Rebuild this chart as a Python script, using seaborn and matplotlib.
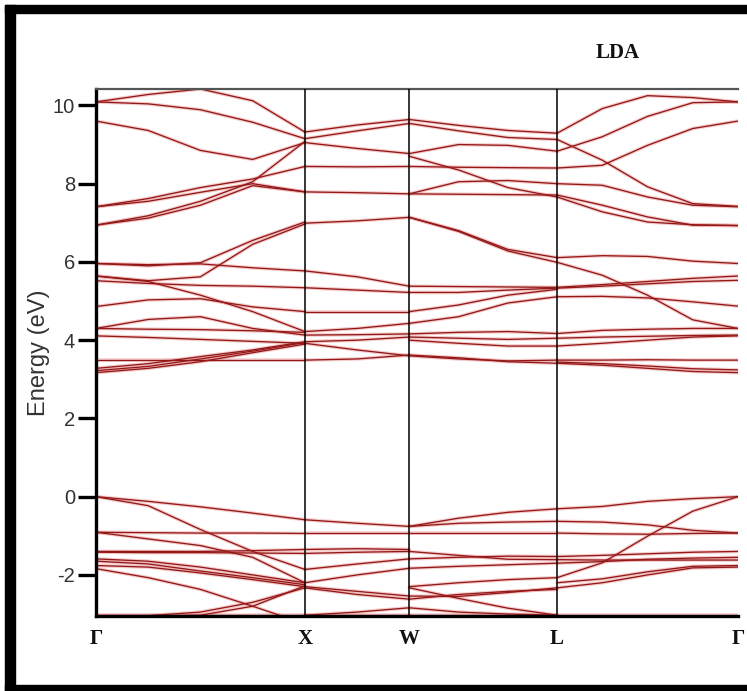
import numpy as np
import pandas as pd
import matplotlib
matplotlib.use("Agg")
import matplotlib.pyplot as plt
from matplotlib.patches import Rectangle
import seaborn as sns

# ---------------- data ----------------
kpoint_labels = ["Γ", "X", "W", "L", "Γ"]
segment_lengths = [1.0, 0.5, 0.7071, 0.8660]          # Γ-X, X-W, W-L, L-Γ (2π/a)
yticks = [-2, 0, 2, 4, 6, 8, 10]
ytick_labels = ["-2", "0", "2", "4", "6", "8", "10"]
title_text = "LDA"
ylabel_text = "Energy (eV)"

# fractional sample positions along each segment
frac_GX = [0, 0.25, 0.5, 0.75, 1.0]
frac_XW = [0, 0.5, 1.0]
frac_WL = [0, 1/3, 2/3, 1.0]
frac_LG = [0, 0.25, 0.5, 0.75, 1.0]

bands_GX = [
    [10.09, 10.28, 10.42, 10.12, 9.32],
    [10.09, 10.04, 9.89, 9.57, 9.15],
    [9.60, 9.36, 8.85, 8.62, 9.05],
    [7.41, 7.62, 7.90, 8.12, 8.44],
    [7.41, 7.55, 7.78, 8.00, 7.79],
    [6.94, 7.18, 7.55, 8.05, 9.08],
    [6.94, 7.12, 7.45, 7.95, 7.79],
    [5.96, 5.93, 5.95, 5.85, 5.77],
    [5.96, 5.90, 5.98, 6.55, 7.02],
    [5.64, 5.52, 5.62, 6.45, 6.97],
    [5.52, 5.45, 5.40, 5.38, 5.34],
    [5.64, 5.50, 5.15, 4.73, 4.22],
    [4.86, 5.03, 5.06, 4.85, 4.73],
    [4.30, 4.53, 4.60, 4.30, 4.13],
    [4.30, 4.28, 4.27, 4.24, 4.20],
    [4.11, 4.07, 4.02, 3.97, 3.92],
    [3.49, 3.49, 3.49, 3.49, 3.49],
    [3.28, 3.40, 3.58, 3.75, 3.96],
    [3.22, 3.33, 3.52, 3.72, 3.94],
    [3.17, 3.28, 3.45, 3.68, 3.90],
    [0.00, -0.12, -0.26, -0.42, -0.59],
    [0.00, -0.23, -0.84, -1.40, -1.86],
    [-0.91, -0.92, -0.93, -0.93, -0.94],
    [-0.91, -1.08, -1.25, -1.55, -2.20],
    [-1.40, -1.40, -1.40, -1.38, -1.35],
    [-1.42, -1.43, -1.43, -1.44, -1.45],
    [-1.59, -1.65, -1.80, -2.00, -2.20],
    [-1.65, -1.72, -1.90, -2.07, -2.25],
    [-1.76, -1.80, -1.95, -2.12, -2.30],
    [-1.84, -2.07, -2.37, -2.80, -3.25],
    [-3.04, -3.04, -2.95, -2.70, -2.33],
    [-3.05, -3.05, -3.03, -2.80, -2.28],
    [-3.03, -3.03, -3.03, -3.03, -3.03],
]

bands_XW = [
    [9.32, 9.50, 9.64],
    [9.15, 9.35, 9.54],
    [9.05, 8.90, 8.77],
    [8.44, 8.43, 8.44],
    [7.79, 7.77, 7.74],
    [6.99, 7.05, 7.14],
    [5.77, 5.62, 5.38],
    [5.34, 5.28, 5.22],
    [4.73, 4.73, 4.73],
    [4.22, 4.30, 4.43],
    [4.13, 4.14, 4.16],
    [3.96, 4.00, 4.08],
    [3.92, 3.75, 3.60],
    [3.49, 3.52, 3.62],
    [-0.59, -0.68, -0.76],
    [-0.93, -0.93, -0.93],
    [-1.35, -1.33, -1.35],
    [-1.45, -1.42, -1.40],
    [-1.86, -1.72, -1.59],
    [-2.20, -2.00, -1.83],
    [-2.30, -2.42, -2.54],
    [-2.33, -2.50, -2.62],
    [-3.03, -2.95, -2.84],
    [-3.03, -3.03, -3.03],
]

bands_WL = [
    [9.64, 9.49, 9.36, 9.29],
    [9.54, 9.35, 9.18, 9.13],
    [8.77, 9.00, 8.98, 8.83],
    [8.70, 8.35, 7.90, 7.66],
    [8.44, 8.42, 8.41, 8.40],
    [7.74, 8.05, 8.08, 8.00],
    [7.74, 7.73, 7.72, 7.71],
    [7.14, 6.80, 6.32, 6.11],
    [7.14, 6.78, 6.28, 5.99],
    [5.38, 5.37, 5.36, 5.35],
    [5.22, 5.22, 5.28, 5.33],
    [4.73, 4.90, 5.15, 5.30],
    [4.43, 4.60, 4.95, 5.11],
    [4.16, 4.20, 4.22, 4.17],
    [4.08, 4.05, 4.02, 4.05],
    [4.00, 3.92, 3.85, 3.85],
    [3.62, 3.55, 3.45, 3.41],
    [3.60, 3.52, 3.47, 3.49],
    [-0.76, -0.55, -0.40, -0.31],
    [-0.76, -0.68, -0.65, -0.63],
    [-0.93, -0.93, -0.93, -0.93],
    [-1.40, -1.50, -1.60, -1.61],
    [-1.59, -1.55, -1.52, -1.53],
    [-1.83, -1.78, -1.74, -1.70],
    [-2.30, -2.20, -2.12, -2.07],
    [-2.54, -2.55, -2.45, -2.33],
    [-2.62, -2.50, -2.42, -2.37],
    [-2.33, -2.60, -2.85, -3.03],
    [-2.84, -2.95, -3.00, -3.03],
    [-3.03, -3.03, -3.03, -3.03],
]

bands_LG = [
    [9.29, 9.92, 10.25, 10.20, 10.09],
    [8.83, 9.20, 9.72, 10.07, 10.09],
    [9.13, 8.60, 7.92, 7.49, 7.42],
    [8.40, 8.47, 8.98, 9.41, 9.60],
    [8.00, 7.96, 7.66, 7.45, 7.41],
    [7.71, 7.45, 7.15, 6.94, 6.93],
    [7.66, 7.28, 7.02, 6.95, 6.93],
    [6.11, 6.16, 6.14, 6.02, 5.96],
    [5.99, 5.66, 5.15, 4.52, 4.30],
    [5.35, 5.42, 5.50, 5.58, 5.64],
    [5.33, 5.38, 5.44, 5.50, 5.53],
    [5.11, 5.12, 5.08, 4.98, 4.87],
    [4.17, 4.25, 4.28, 4.30, 4.30],
    [4.05, 4.08, 4.10, 4.12, 4.13],
    [3.85, 3.92, 4.00, 4.08, 4.11],
    [3.49, 3.49, 3.50, 3.49, 3.49],
    [3.41, 3.36, 3.28, 3.20, 3.17],
    [3.44, 3.40, 3.34, 3.27, 3.24],
    [-0.31, -0.25, -0.12, -0.05, 0.00],
    [-0.63, -0.65, -0.72, -0.86, -0.93],
    [-0.93, -0.95, -0.96, -0.94, -0.93],
    [-2.07, -1.69, -1.01, -0.37, 0.00],
    [-1.53, -1.50, -1.46, -1.42, -1.40],
    [-1.61, -1.62, -1.62, -1.62, -1.62],
    [-1.70, -1.66, -1.60, -1.57, -1.55],
    [-2.20, -2.10, -1.92, -1.78, -1.76],
    [-2.33, -2.20, -2.00, -1.82, -1.80],
    [-3.03, -3.03, -3.03, -3.03, -3.03],
]

# ---------------- build long table ----------------
kpos = np.concatenate([[0.0], np.cumsum(segment_lengths)])
segments = [(frac_GX, bands_GX), (frac_XW, bands_XW),
            (frac_WL, bands_WL), (frac_LG, bands_LG)]
rows = []
uid = 0
for si, (fr, bands) in enumerate(segments):
    kk = kpos[si] + np.array(fr) * segment_lengths[si]
    for b in bands:
        for k, e in zip(kk, b):
            rows.append((uid, k, e))
        uid += 1
df = pd.DataFrame(rows, columns=["uid", "k", "E"])

# ---------------- plot ----------------
sns.set_style("white")
plt.rcParams["font.family"] = ["Liberation Sans", "DejaVu Sans"]

fig = plt.figure(figsize=(7.47, 6.91), dpi=100)
ax = fig.add_axes([96/747, 1-616/691, (738-96)/747, (616-89)/691])

sns.lineplot(data=df, x="k", y="E", units="uid", estimator=None, sort=False,
             color="#e89090", lw=2.6, alpha=0.45, legend=False, ax=ax)
sns.lineplot(data=df, x="k", y="E", units="uid", estimator=None, sort=False,
             color="#941818", lw=0.95, legend=False, ax=ax)

for kp in kpos[1:-1]:
    ax.axvline(kp, color="black", lw=1.1, zorder=3)

ax.set_xlim(kpos[0], kpos[-1])
ax.set_ylim(-3.05, 10.42)
ax.set_yticks(yticks)
ax.set_yticklabels(ytick_labels, fontsize=14.5, color="#333333")
ax.tick_params(axis="y", length=13, width=2.4, color="black", pad=2, direction="out", left=True)
ax.set_xticks(kpos)
ax.set_xticklabels(kpoint_labels, fontfamily="Liberation Serif", fontweight="bold",
                   fontsize=15, color="#111111")
ax.tick_params(axis="x", length=0, pad=9)
ax.set_xlabel("")
ax.set_ylabel(ylabel_text, fontsize=17, color="#333333", labelpad=2)

for s in ["left", "bottom"]:
    ax.spines[s].set_color("black")
    ax.spines[s].set_linewidth(2.4)
ax.spines["top"].set_color("#555555")
ax.spines["top"].set_linewidth(1.6)
ax.spines["right"].set_visible(False)

fig.text(618/747, 1-53/691, title_text, fontfamily="Liberation Serif", fontweight="bold",
         fontsize=15, ha="center", va="center", color="#111111")

# black frame around the picture
W, H = 747, 691
frame = [(5, 0, 10, 686), (5, 678, 742, 8), (5, 0, 742, 6)]
for x0, y0, w, h in frame:
    fig.patches.append(Rectangle((x0/W, y0/H), w/W, h/H, transform=fig.transFigure,
                                 color="black", zorder=10))

fig.savefig("out.png", dpi=100)
